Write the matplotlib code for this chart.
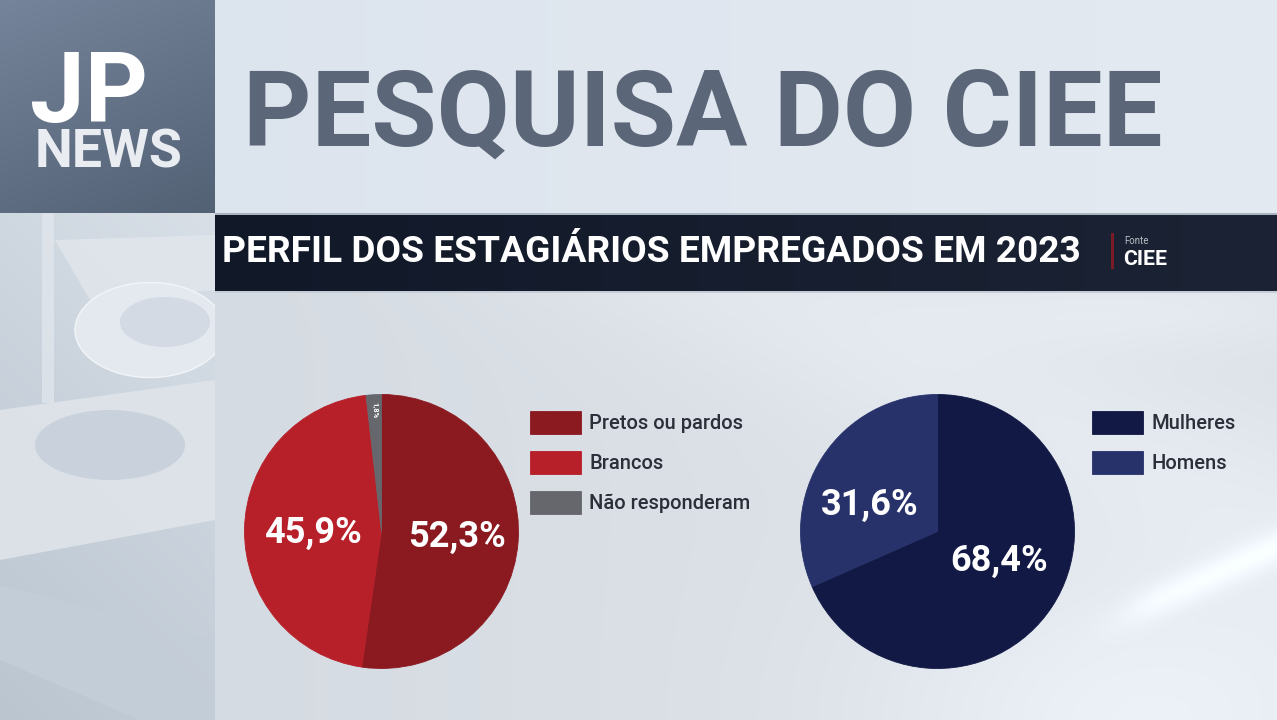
import numpy as np
import matplotlib
matplotlib.use("Agg")
import matplotlib.pyplot as plt
from matplotlib.patches import Rectangle, Ellipse, Polygon

# ---------------- data ----------------
title = "PESQUISA DO CIEE"
subtitle = "PERFIL DOS ESTAGIÁRIOS EMPREGADOS EM 2023"
source_label = "Fonte"
source_name = "CIEE"

race_labels = ["Pretos ou pardos", "Brancos", "Não responderam"]
race_values = [52.3, 45.9, 1.8]
race_colors = ["#8a1a20", "#b71f29", "#66676c"]

gender_labels = ["Mulheres", "Homens"]
gender_values = [68.4, 31.6]
gender_colors = ["#111944", "#27326a"]

def fmt_pct(v):
    return f"{v:.1f}".replace(".", ",") + "%"

W, H = 1277, 720
fig = plt.figure(figsize=(W / 100, H / 100), dpi=100)
FONT = ["Roboto", "DejaVu Sans"]

# ---------------- background ----------------
bg = np.zeros((H, W, 3))
yy, xx = np.mgrid[0:H, 0:W].astype(float)

def hexrgb(h):
    h = h.lstrip("#")
    return np.array([int(h[i:i + 2], 16) / 255 for i in (0, 2, 4)])

# chart area
base = hexrgb("#dde2e8")
left = hexrgb("#d5dbe2")
t = np.clip((xx - 215) / 700, 0, 1)[..., None]
bg[:] = left * (1 - t) + base * t
d1 = np.abs((yy - 330) - (xx - 850) * 0.45) / 110
bg += (np.exp(-d1 ** 2) * 0.03)[..., None]
d2 = np.abs((yy - 585) + (xx - 1190) * 0.45) / 18
fade = 1 / (1 + np.exp(-(xx - 1130) / 15))
bg += (np.exp(-d2 ** 2) * 0.07 * fade)[..., None]
glow = np.exp(-(((xx - 1150) / 260) ** 2 + ((yy - 720) / 160) ** 2)) * 0.06
bg += glow[..., None]
glow2 = np.exp(-(((xx - 1150) / 200) ** 2 + ((yy - 310) / 40) ** 2)) * 0.03
bg += glow2[..., None]

# left lower panel
lp = (xx < 215) & (yy >= 213)
c_top = hexrgb("#d8dfe7")
c_bot = hexrgb("#bac5d0")
tt = np.clip(((yy - 213) / 507 * 0.7 + (215 - xx) / 215 * 0.3), 0, 1)[..., None]
bg = np.where(lp[..., None], c_top * (1 - tt) + c_bot * tt, bg)

# logo panel
lg = (xx < 215) & (yy < 213)
tl = np.clip((yy / 213) * 0.7 + (xx / 215) * 0.3, 0, 1)[..., None]
bg = np.where(lg[..., None], hexrgb("#75849a") * (1 - tl) + hexrgb("#536175") * tl, bg)

# title band
tb = (xx >= 215) & (yy < 213)
tt2 = np.clip(xx / W, 0, 1)[..., None]
bg = np.where(tb[..., None], hexrgb("#dbe3ed") * (1 - tt2) + hexrgb("#e4eaf1") * tt2, bg)

# dark band
db = (xx >= 215) & (yy >= 215) & (yy < 291)
tt3 = np.clip((xx - 215) / 1062, 0, 1)[..., None]
bg = np.where(db[..., None], hexrgb("#111929") * (1 - tt3) + hexrgb("#1b2334") * tt3, bg)
bl = (xx >= 215) & (yy >= 291) & (yy < 293)
bg = np.where(bl[..., None], hexrgb("#c4ccd6"), bg)
sep = (xx >= 215) & (yy >= 213) & (yy < 215)
bg = np.where(sep[..., None], hexrgb("#aab4c0"), bg)

bg = np.clip(bg, 0, 1)

axb = fig.add_axes([0, 0, 1, 1])
axb.imshow(bg, extent=(0, W, H, 0), aspect="auto", interpolation="bilinear")
axb.set_xlim(0, W)
axb.set_ylim(H, 0)
axb.axis("off")

# decorative shapes in left lower panel (clipped to the panel)
clip_rect = Rectangle((0, 213), 215, 507, transform=axb.transData, facecolor="none", edgecolor="none")
axb.add_patch(clip_rect)
shapes = [
    Polygon([[55, 240], [215, 235], [215, 290], [90, 300]], closed=True,
            facecolor="#e2e7ed", edgecolor="none", alpha=0.8),
    Ellipse((150, 330), 150, 95, facecolor="#e4e9ef", edgecolor="#f2f5f8", lw=1),
    Ellipse((165, 322), 90, 50, facecolor="#d3dae3", edgecolor="none"),
    Polygon([[0, 410], [215, 380], [215, 520], [0, 560]], closed=True,
            facecolor="#dfe4ea", edgecolor="none", alpha=0.9),
    Ellipse((110, 445), 150, 70, facecolor="#c9d2dc", edgecolor="none"),
    Polygon([[0, 585], [215, 640], [215, 720], [140, 720], [0, 660]], closed=True,
            facecolor="#c4ced8", edgecolor="none", alpha=0.9),
    Rectangle((42, 213), 12, 190, facecolor="#e3e8ee", edgecolor="none", alpha=0.7),
]
for s in shapes:
    s.set_zorder(2)
    axb.add_patch(s)
    s.set_clip_path(clip_rect)

renderer = fig.canvas.get_renderer()

def fit_text(x, y, s, width_px, **kw):
    txt = axb.text(x, y, s, **kw)
    bb = txt.get_window_extent(renderer=renderer)
    txt.set_fontsize(txt.get_fontsize() * width_px / bb.width)
    return txt

# logo
fit_text(30, 122, "JP", 118, fontsize=80, fontweight="bold", color="white",
         family=FONT, ha="left", va="baseline", zorder=3)
fit_text(35, 167, "NEWS", 148, fontsize=40, fontweight="bold", color="#e9edf2",
         family=FONT, ha="left", va="baseline", zorder=3)

# main title
fit_text(243, 146, title, 919, fontsize=80, fontweight="bold", color="#5b6678",
         family=FONT, ha="left", va="baseline", zorder=3)

# band title
fit_text(222, 262, subtitle, 858, fontsize=26, fontweight="bold", color="white",
         family=FONT, ha="left", va="baseline", zorder=3)
axb.add_patch(Rectangle((1111, 233), 3, 36, facecolor="#7a1c25", edgecolor="none", zorder=3))
axb.text(1124, 244, source_label, fontsize=7, color="#b9bec6", family=FONT,
         ha="left", va="baseline", zorder=3)
fit_text(1123, 265, source_name, 44, fontsize=16, fontweight="bold", color="white",
         family=FONT, ha="left", va="baseline", zorder=3)

# ---------------- pies ----------------
R = 137

def pie_axes(cx, cy):
    return fig.add_axes([(cx - R) / W, (H - cy - R) / H, 2 * R / W, 2 * R / H])

def draw_pie(ax, values, colors, label_style):
    wedges, _ = ax.pie(values, colors=colors, startangle=90, counterclock=False,
                       wedgeprops=dict(linewidth=0.6, antialiased=True))
    for w, c in zip(wedges, colors):
        w.set_edgecolor(c)
    ax.set_xlim(-1, 1)
    ax.set_ylim(-1, 1)
    ax.set_aspect("equal")
    ax.axis("off")
    for w, v, (r, dang, fs, rot) in zip(wedges, values, label_style):
        ang = np.deg2rad((w.theta1 + w.theta2) / 2 + dang)
        ax.text(r * np.cos(ang), r * np.sin(ang), fmt_pct(v), ha="center", va="center",
                fontsize=fs, fontweight="bold", color="white", family=FONT, rotation=rot)
    return wedges

ax1 = pie_axes(381.5, 531.5)
w1 = draw_pie(ax1, race_values, race_colors,
              [(0.55, 0, 26, 0), (0.50, 2, 26, 0), (0.89, 0, 5.5, -90)])
ax2 = pie_axes(937.5, 531.5)
w2 = draw_pie(ax2, gender_values, gender_colors,
              [(0.50, 8, 26, 0), (0.53, 12, 26, 0)])

# legends
def add_legend(handles, labels, x, y):
    leg = fig.legend(handles, labels, loc="upper left",
                     bbox_to_anchor=(x / W, 1 - y / H), frameon=False,
                     prop=dict(family=FONT, size=14.5, weight="medium"),
                     labelcolor="#2a2f3a",
                     handlelength=2.55, handleheight=1.4, handletextpad=0.4,
                     labelspacing=0.82, borderaxespad=0, borderpad=0)
    return leg

add_legend(w1, race_labels, 530, 411)
add_legend(w2, gender_labels, 1092, 411)

fig.savefig("out.png", dpi=100)
